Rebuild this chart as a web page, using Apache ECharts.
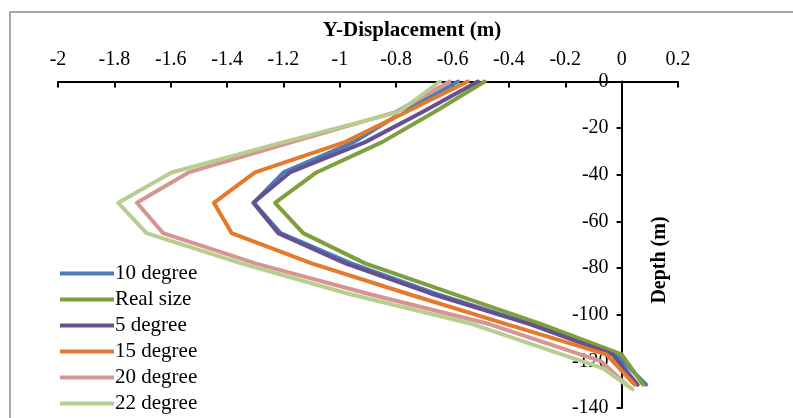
<!DOCTYPE html>
<html>
<head>
<meta charset="utf-8">
<script src="https://cdn.jsdelivr.net/npm/echarts@6/dist/echarts.min.js"></script>
<style>
  html, body { margin: 0; padding: 0; background: #fff; }
  #chart { width: 793px; height: 418px; }
</style>
</head>
<body>
<div id="chart"></div>
<script>
// depth of each reading (m)
const depth = [0, -13, -26, -39, -52, -65, -78, -91, -104, -117, -130]
const depth20 = [0, -13, -26, -39, -52, -65, -78, -91, -104, -120, -130.5]
const depth22 = [0, -13, -26, -39, -52, -65, -78, -91, -104, -123, -132]

// Y-displacement (m) per model
const deg10 = [-0.58, -0.775, -0.95, -1.20, -1.305, -1.21, -0.96, -0.66, -0.32, -0.02, 0.087]
const realSize = [-0.486, -0.663, -0.85, -1.083, -1.23, -1.13, -0.91, -0.60, -0.285, 0.0, 0.076]
const deg5 = [-0.51, -0.705, -0.91, -1.177, -1.307, -1.219, -0.98, -0.675, -0.326, -0.032, 0.057]
const deg15 = [-0.546, -0.763, -0.982, -1.301, -1.447, -1.384, -1.10, -0.76, -0.409, -0.054, 0.046]
const deg20 = [-0.61, -0.80, -1.17, -1.537, -1.72, -1.627, -1.30, -0.90, -0.47, -0.072, 0.022]
const deg22 = [-0.645, -0.79, -1.20, -1.597, -1.786, -1.686, -1.35, -0.97, -0.53, -0.066, 0.039]

const names = ['10 degree', 'Real size', '5 degree', '15 degree', '20 degree', '22 degree']
const colors = ['#4a7ebb', '#7f9f3e', '#67508f', '#e57a2c', '#d69593', '#b6cf90']

const font = "'Liberation Serif', 'Times New Roman', serif"

function pairs(xs, ys) {
  return xs.map(function (v, i) { return [v, ys[i]] })
}

const seriesData = [
  pairs(deg10, depth),
  pairs(realSize, depth),
  pairs(deg5, depth),
  pairs(deg15, depth),
  pairs(deg20, depth20),
  pairs(deg22, depth22)
]

const myChart = echarts.init(document.getElementById('chart'))
const option = {
  animation: false,
  color: colors,
  grid: { left: 58, right: 115, top: 81.5, bottom: 5 },
  legend: {
    orient: 'vertical',
    left: 55,
    top: 258,
    height: 200,
    itemWidth: 54,
    itemHeight: 4,
    itemGap: 5,
    icon: 'rect',
    textStyle: { fontFamily: font, fontSize: 21, color: '#000', padding: [0, 0, 0, -4] },
    data: names
  },
  xAxis: {
    type: 'value',
    position: 'top',
    min: -2,
    max: 0.2,
    interval: 0.2,
    name: 'Y-Displacement (m)',
    nameLocation: 'middle',
    nameGap: 40,
    nameTextStyle: { fontFamily: font, fontSize: 21, fontWeight: 'bold', color: '#000', padding: [0, 0, 0, 88] },
    axisLine: { onZero: false, lineStyle: { color: '#000', width: 2 } },
    axisTick: { inside: true, length: 6, lineStyle: { color: '#000', width: 2 } },
    axisLabel: { fontFamily: font, fontSize: 20, color: '#000', margin: 12 },
    splitLine: { show: false }
  },
  yAxis: {
    type: 'value',
    position: 'right',
    offset: -56.4,
    min: -140,
    max: 0,
    interval: 20,
    axisLine: { onZero: false, lineStyle: { color: '#000', width: 2 } },
    axisTick: { inside: true, length: 5, lineStyle: { color: '#000', width: 2 } },
    axisLabel: { inside: true, fontFamily: font, fontSize: 20, color: '#000', margin: 13 },
    splitLine: { show: false }
  },
  graphic: [
    {
      type: 'rect',
      shape: { x: 10, y: 12, width: 820, height: 440 },
      style: { fill: 'none', stroke: '#8c8c8c', lineWidth: 1.5 },
      silent: true
    },
    {
      type: 'text',
      x: 660,
      y: 260,
      rotation: Math.PI / 2,
      style: {
        text: 'Depth (m)',
        font: 'bold 20px ' + font,
        fill: '#000',
        align: 'center',
        verticalAlign: 'middle'
      }
    }
  ],
  series: names.map(function (n, i) {
    return {
      name: n,
      type: 'line',
      showSymbol: false,
      clip: false,
      lineStyle: { width: 4, join: 'round', cap: 'round' },
      data: seriesData[i]
    }
  })
}
myChart.setOption(option)
window.addEventListener('resize', function () {
  myChart.resize()
})
</script>
</body>
</html>
